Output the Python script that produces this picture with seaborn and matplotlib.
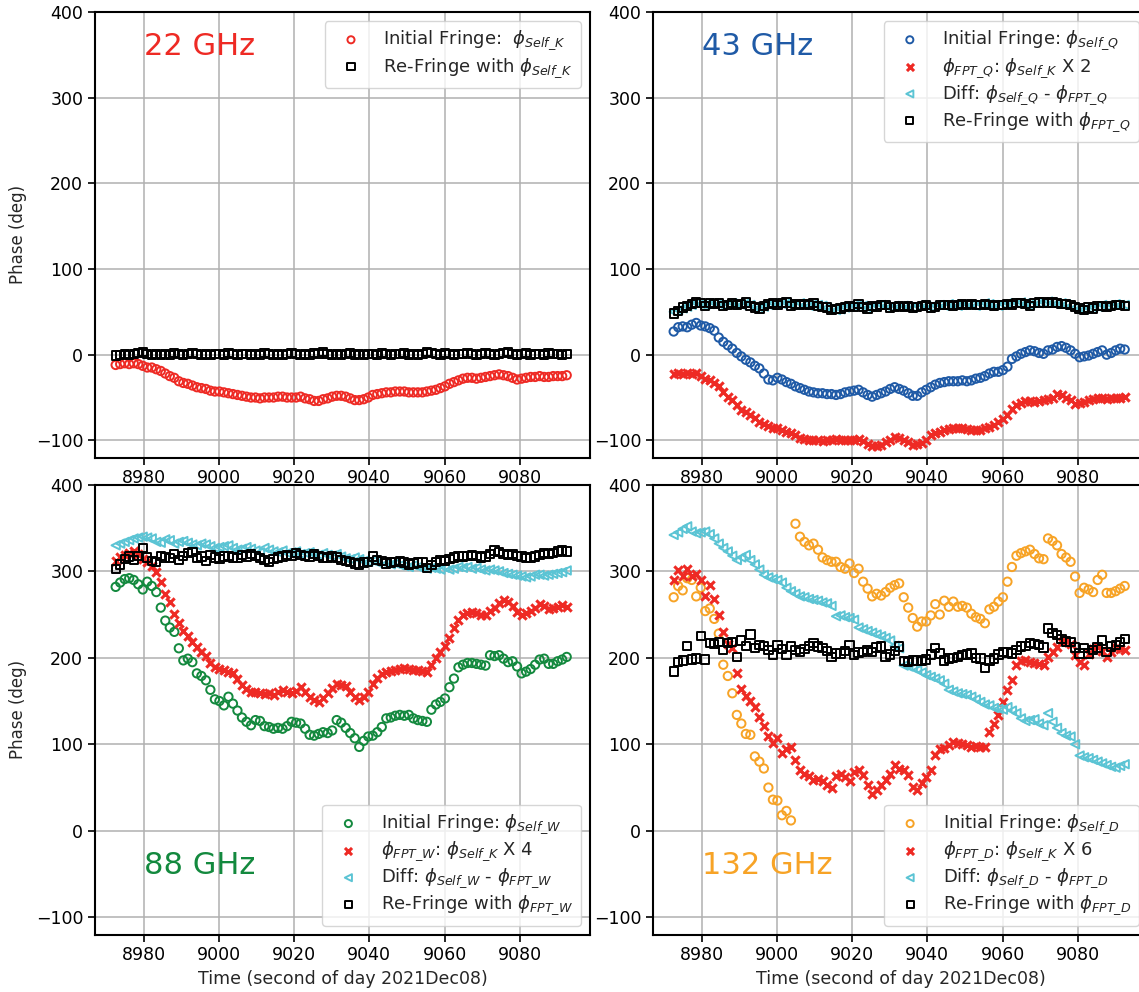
import matplotlib
matplotlib.use("Agg")
import matplotlib.pyplot as plt
import seaborn as sns

# sample times (second of day)
time_s = [
    8972.5, 8973.7, 8974.9, 8976.1, 8977.3, 8978.5, 8979.7, 8980.9, 8982.1, 8983.3,
    8984.5, 8985.7, 8986.9, 8988.1, 8989.3, 8990.5, 8991.7, 8992.9, 8994.1, 8995.3,
    8996.5, 8997.7, 8998.9, 9000.1, 9001.3, 9002.5, 9003.7, 9004.9, 9006.1, 9007.3,
    9008.5, 9009.7, 9010.9, 9012.1, 9013.3, 9014.5, 9015.7, 9016.9, 9018.1, 9019.3,
    9020.5, 9021.7, 9022.9, 9024.1, 9025.3, 9026.5, 9027.7, 9028.9, 9030.1, 9031.3,
    9032.5, 9033.7, 9034.9, 9036.1, 9037.3, 9038.5, 9039.7, 9040.9, 9042.1, 9043.3,
    9044.5, 9045.7, 9046.9, 9048.1, 9049.3, 9050.5, 9051.7, 9052.9, 9054.1, 9055.3,
    9056.5, 9057.7, 9058.9, 9060.1, 9061.3, 9062.5, 9063.7, 9064.9, 9066.1, 9067.3,
    9068.5, 9069.7, 9070.9, 9072.1, 9073.3, 9074.5, 9075.7, 9076.9, 9078.1, 9079.3,
    9080.5, 9081.7, 9082.9, 9084.1, 9085.3, 9086.5, 9087.7, 9088.9, 9090.1, 9091.3,
    9092.5,
]

# 22 GHz
self_k = [
    -12, -11, -10, -11, -10, -11, -13, -15, -15, -17,
    -19, -22, -25, -27, -31, -33, -34, -36, -38, -39,
    -40, -42, -43, -43, -44, -45, -46, -47, -48, -49,
    -50, -50, -51, -50, -50, -50, -49, -49, -50, -50,
    -50, -49, -51, -52, -54, -54, -52, -51, -49, -48,
    -48, -49, -51, -53, -53, -52, -50, -47, -46, -45,
    -44, -44, -43, -43, -43, -44, -44, -44, -44, -43,
    -42, -41, -39, -37, -34, -32, -30, -28, -27, -27,
    -28, -27, -26, -25, -24, -23, -24, -25, -27, -29,
    -28, -27, -26, -26, -25, -26, -26, -25, -25, -25,
    -24,
]
refringe_k = [
    -1, 0, 1, 0, 1, 2, 3, 1, 0, 1,
    0, 1, 0, 2, 1, 0, 1, 2, 1, 0,
    1, 0, 1, 1, 0, 2, 1, 0, 1, 1,
    0, 1, 0, 2, 1, 0, 1, 0, 1, 2,
    1, 0, 1, 0, 2, 1, 3, 1, 0, 1,
    0, 1, 2, 0, 1, 0, 1, 1, 0, 2,
    1, 0, 1, 1, 2, 0, 1, 0, 1, 3,
    2, 1, 0, 2, 1, 0, 1, 1, 2, 1,
    0, 1, 2, 1, 0, 1, 2, 3, 1, 0,
    1, 2, 0, 1, 1, 0, 2, 1, 1, 0,
    1,
]

# 43 GHz
self_q = [
    27, 32, 33, 32, 35, 37, 34, 33, 31, 28,
    20, 15, 11, 7, 2, -2, -6, -9, -13, -16,
    -22, -29, -30, -27, -29, -32, -34, -37, -39, -41,
    -43, -44, -45, -45, -46, -46, -47, -46, -44, -43,
    -42, -41, -44, -47, -49, -47, -45, -43, -40, -38,
    -40, -42, -45, -48, -48, -44, -41, -38, -35, -33,
    -32, -31, -31, -31, -30, -31, -30, -28, -27, -25,
    -22, -20, -20, -18, -14, -5, -2, 1, 3, 5,
    4, 2, 1, 5, 6, 9, 10, 8, 5, 1,
    -3, -2, -1, 1, 3, 5, 0, 2, 5, 7,
    6,
]
fpt_q = [
    -23, -21, -22, -21, -23, -21, -25, -28, -29, -33,
    -37, -43, -49, -53, -59, -64, -67, -70, -74, -78,
    -81, -83, -85, -86, -88, -90, -91, -94, -97, -98,
    -99, -100, -100, -101, -100, -99, -98, -99, -99, -100,
    -99, -98, -101, -104, -106, -107, -105, -102, -99, -96,
    -97, -99, -102, -105, -104, -103, -99, -94, -91, -90,
    -88, -87, -86, -86, -86, -87, -88, -88, -88, -86,
    -84, -82, -78, -75, -70, -63, -59, -56, -54, -54,
    -55, -54, -53, -52, -50, -46, -47, -50, -53, -57,
    -56, -55, -53, -52, -50, -51, -52, -51, -50, -50,
    -49,
]
diff_q = [
    50, 52, 54, 56, 58, 60, 59, 58, 59, 60,
    59, 58, 59, 60, 59, 58, 60, 58, 56, 55,
    56, 58, 60, 59, 59, 60, 59, 58, 60, 58,
    57, 59, 58, 57, 55, 53, 52, 53, 55, 56,
    57, 58, 57, 55, 56, 57, 58, 57, 56, 57,
    56, 57, 56, 55, 57, 58, 57, 56, 57, 58,
    57, 59, 58, 57, 58, 59, 58, 57, 59, 60,
    59, 58, 57, 59, 60, 59, 60, 61, 60, 58,
    61, 60, 61, 62, 61, 60, 60, 59, 57, 55,
    54, 53, 54, 55, 56, 58, 57, 58, 59, 58,
    58,
]
refringe_q = [
    48, 51, 55, 57, 59, 61, 60, 57, 60, 59,
    60, 57, 58, 60, 58, 59, 61, 57, 55, 54,
    57, 59, 60, 58, 60, 61, 57, 59, 58, 59,
    58, 60, 57, 56, 55, 52, 53, 54, 56, 57,
    56, 59, 56, 54, 57, 56, 58, 58, 55, 56,
    57, 56, 57, 55, 56, 57, 58, 55, 56, 58,
    58, 58, 57, 58, 59, 58, 59, 58, 58, 59,
    58, 57, 58, 58, 59, 58, 60, 60, 59, 57,
    60, 61, 61, 60, 61, 60, 59, 59, 58, 56,
    54, 52, 55, 54, 57, 57, 56, 57, 58, 58,
    57,
]

# 88 GHz
self_w = [
    282, 287, 291, 292, 290, 285, 279, 288, 283, 276,
    258, 243, 235, 230, 211, 197, 199, 195, 182, 179,
    174, 163, 152, 150, 145, 155, 147, 139, 131, 126,
    122, 128, 127, 121, 120, 118, 119, 118, 121, 126,
    125, 124, 118, 111, 110, 112, 114, 113, 116, 128,
    125, 119, 113, 107, 97, 104, 109, 110, 114, 120,
    130, 131, 133, 134, 133, 134, 130, 128, 127, 126,
    140, 146, 149, 153, 166, 176, 189, 192, 194, 194,
    193, 192, 191, 203, 202, 203, 199, 195, 196, 190,
    182, 184, 187, 192, 198, 199, 193, 193, 196, 198,
    201,
]
fpt_w = [
    312, 316, 319, 321, 323, 320, 314, 311, 306, 299,
    288, 274, 264, 251, 240, 231, 225, 218, 213, 207,
    202, 194, 189, 187, 186, 184, 182, 176, 169, 164,
    161, 160, 159, 158, 159, 157, 160, 163, 161, 159,
    162, 166, 161, 155, 151, 149, 154, 159, 165, 170,
    168, 167, 161, 155, 151, 155, 161, 170, 177, 181,
    184, 185, 186, 187, 188, 187, 186, 186, 185, 184,
    192, 200, 207, 214, 223, 235, 244, 250, 252, 253,
    252, 250, 250, 254, 258, 263, 267, 264, 260, 253,
    250, 252, 254, 258, 262, 260, 256, 257, 259, 261,
    259,
]
diff_w = [
    330, 332, 334, 336, 338, 339, 340, 339, 338, 334,
    333, 337, 336, 332, 334, 335, 333, 331, 330, 332,
    331, 329, 327, 328, 329, 330, 327, 325, 326, 328,
    326, 324, 322, 327, 325, 323, 322, 324, 321, 322,
    323, 320, 321, 322, 320, 319, 321, 319, 318, 320,
    317, 315, 314, 316, 314, 312, 311, 312, 310, 311,
    309, 308, 309, 307, 306, 305, 307, 305, 304, 303,
    304, 303, 302, 304, 302, 303, 305, 304, 305, 303,
    304, 302, 301, 302, 301, 300, 298, 297, 296, 295,
    294, 293, 294, 296, 296, 295, 296, 297, 298, 299,
    301,
]
refringe_w = [
    303, 308, 314, 317, 313, 318, 327, 316, 312, 311,
    318, 316, 315, 320, 313, 318, 321, 322, 315, 317,
    312, 319, 316, 314, 317, 318, 316, 315, 319, 317,
    320, 318, 315, 313, 311, 314, 316, 317, 319, 318,
    321, 319, 318, 317, 320, 318, 316, 315, 317, 316,
    313, 312, 311, 309, 308, 310, 311, 317, 313, 312,
    309, 310, 311, 312, 310, 308, 309, 310, 311, 304,
    307, 311, 313, 312, 314, 316, 318, 317, 318, 319,
    318, 316, 317, 320, 324, 322, 320, 319, 320, 318,
    317, 315, 316, 317, 319, 321, 320, 321, 323, 324,
    323,
]

# 132 GHz (initial fringe phase wraps at 0/360)
self_d = [
    270, 283, 278, 292, 290, 271, 281, 254, 257, 245,
    228, 192, 179, 159, 134, 124, 112, 111, 86, 80,
    72, 50, 36, 35, 18, 23, 12, 355, 340, 334,
    330, 332, 325, 316, 313, 311, 311, 305, 303, 309,
    298, 303, 288, 280, 271, 274, 272, 276, 281, 284,
    286, 270, 258, 246, 236, 242, 242, 249, 262, 250,
    266, 259, 265, 259, 260, 258, 251, 247, 245, 240,
    256, 259, 265, 270, 288, 305, 318, 321, 323, 325,
    320, 315, 314, 338, 335, 330, 320, 316, 311, 294,
    275, 281, 279, 276, 290, 296, 275, 275, 277, 280,
    283,
]
fpt_d = [
    290, 302, 294, 303, 295, 297, 290, 271, 284, 268,
    250, 230, 216, 211, 182, 164, 156, 150, 143, 132,
    121, 110, 102, 107, 90, 95, 97, 82, 70, 66,
    63, 59, 60, 57, 53, 50, 63, 66, 62, 57,
    68, 70, 64, 53, 42, 47, 53, 59, 66, 76,
    72, 70, 65, 51, 47, 55, 62, 70, 88, 95,
    96, 99, 103, 102, 100, 99, 97, 98, 97, 97,
    114, 123, 134, 149, 163, 174, 192, 196, 197, 195,
    194, 193, 192, 201, 207, 213, 218, 219, 216, 203,
    195, 192, 204, 210, 213, 208, 201, 207, 211, 210,
    209,
]
diff_d = [
    342, 345, 349, 352, 346, 344, 345, 346, 343, 338,
    332, 327, 323, 318, 313, 316, 319, 313, 308, 302,
    296, 293, 291, 290, 287, 281, 277, 274, 271, 270,
    268, 267, 266, 264, 263, 260, 248, 249, 247, 246,
    244, 235, 233, 231, 229, 227, 225, 223, 220, 214,
    211, 191, 190, 188, 186, 183, 180, 178, 176, 174,
    170, 163, 161, 159, 158, 157, 155, 152, 149, 146,
    145, 142, 141, 140, 143, 139, 136, 130, 127, 128,
    129, 124, 122, 136, 126, 119, 113, 110, 109, 100,
    87, 85, 84, 82, 80, 78, 76, 74, 73, 75,
    77,
]
refringe_d = [
    184, 195, 197, 214, 198, 199, 225, 198, 217, 216,
    218, 209, 217, 218, 201, 220, 214, 227, 211, 215,
    214, 209, 203, 215, 210, 203, 213, 209, 207, 210,
    214, 217, 213, 211, 208, 201, 205, 205, 208, 215,
    203, 206, 207, 209, 207, 212, 213, 201, 204, 208,
    213, 196, 195, 197, 197, 196, 198, 204, 211, 205,
    197, 199, 200, 201, 203, 204, 205, 200, 199, 188,
    197, 199, 204, 207, 206, 205, 209, 213, 214, 217,
    216, 215, 212, 234, 229, 226, 222, 219, 218, 212,
    205, 211, 205, 209, 212, 220, 207, 213, 215, 218,
    222,
]

RED = "#ee2a24"
CYAN = "#5bc4d4"
BLACK = "#000000"

sns.set_style("ticks", {"axes.grid": True, "grid.color": "#b0b0b0",
                        "axes.edgecolor": "black", "xtick.color": "black",
                        "ytick.color": "black"})
plt.rcParams["font.family"] = ["DejaVu Sans"]
plt.rcParams["mathtext.fontset"] = "dejavusans"
plt.rcParams["axes.unicode_minus"] = True

fig = plt.figure(figsize=(11.39, 9.92), dpi=100)
W, H = 1139.0, 992.0
ax_w = 495 / W
top_b, top_h = 1 - 457.5 / H, 445.6 / H
bot_b, bot_h = 1 - 934.6 / H, 449.8 / H
axes = [
    fig.add_axes([95 / W, top_b, ax_w, top_h]),
    fig.add_axes([653 / W, top_b, ax_w, top_h]),
    fig.add_axes([95 / W, bot_b, ax_w, bot_h]),
    fig.add_axes([653 / W, bot_b, ax_w, bot_h]),
]

MS = 36


def circles(ax, y, color, label):
    sns.scatterplot(x=time_s, y=y, ax=ax, marker="o", s=MS, facecolor="none",
                    edgecolor=color, linewidth=1.4, label=label, zorder=3)


def crosses(ax, y, label):
    sns.scatterplot(x=time_s, y=y, ax=ax, marker="x", s=MS, color=RED,
                    linewidth=2.2, label=label, zorder=3)


def triangles(ax, y, label):
    sns.scatterplot(x=time_s, y=y, ax=ax, marker="<", s=MS, facecolor="none",
                    edgecolor=CYAN, linewidth=1.4, label=label, zorder=3)


def squares(ax, y, label):
    sns.scatterplot(x=time_s, y=y, ax=ax, marker="s", s=MS, facecolor="none",
                    edgecolor=BLACK, linewidth=1.4, label=label, zorder=3)


LEG = dict(fontsize=13, labelspacing=0.2, borderpad=0.45, handletextpad=0.8,
           markerscale=0.85)

# 22 GHz
ax = axes[0]
circles(ax, self_k, RED, r"Initial Fringe:  $\phi_{Self\_K}$")
squares(ax, refringe_k, r"Re-Fringe with $\phi_{Self\_K}$")
ax.text(8980, 350, "22 GHz", color=RED, fontsize=22)
ax.legend(loc="upper right", **LEG)

# 43 GHz
ax = axes[1]
circles(ax, self_q, "#1f5aa6", r"Initial Fringe: $\phi_{Self\_Q}$")
crosses(ax, fpt_q, r"$\phi_{FPT\_Q}$: $\phi_{Self\_K}$ X 2")
triangles(ax, diff_q, r"Diff: $\phi_{Self\_Q}$ - $\phi_{FPT\_Q}$")
squares(ax, refringe_q, r"Re-Fringe with $\phi_{FPT\_Q}$")
ax.text(8980, 350, "43 GHz", color="#1f5aa6", fontsize=22)
ax.legend(loc="upper right", **LEG)

# 88 GHz
ax = axes[2]
circles(ax, self_w, "#13893e", r"Initial Fringe: $\phi_{Self\_W}$")
crosses(ax, fpt_w, r"$\phi_{FPT\_W}$: $\phi_{Self\_K}$ X 4")
triangles(ax, diff_w, r"Diff: $\phi_{Self\_W}$ - $\phi_{FPT\_W}$")
squares(ax, refringe_w, r"Re-Fringe with $\phi_{FPT\_W}$")
ax.text(8980, -50, "88 GHz", color="#13893e", fontsize=22)
ax.legend(loc="lower right", **LEG)

# 132 GHz
ax = axes[3]
circles(ax, self_d, "#f7a326", r"Initial Fringe: $\phi_{Self\_D}$")
crosses(ax, fpt_d, r"$\phi_{FPT\_D}$: $\phi_{Self\_K}$ X 6")
triangles(ax, diff_d, r"Diff: $\phi_{Self\_D}$ - $\phi_{FPT\_D}$")
squares(ax, refringe_d, r"Re-Fringe with $\phi_{FPT\_D}$")
ax.text(8980, -50, "132 GHz", color="#f7a326", fontsize=22)
ax.legend(loc="lower right", **LEG)

for i, ax in enumerate(axes):
    ax.set_xlim(8967.0, 9098.7)
    ax.set_ylim(-120, 400)
    ax.set_xticks([8980, 9000, 9020, 9040, 9060, 9080])
    ax.set_yticks([-100, 0, 100, 200, 300, 400])
    ax.tick_params(labelsize=12.5, direction="out", length=5, width=1.2)
    ax.grid(True, color="#b0b0b0", linewidth=1.1)
    for sp in ax.spines.values():
        sp.set_linewidth(1.5)
        sp.set_color("black")
    ax.set_xlabel("")
    ax.set_ylabel("")
    if i % 2 == 0:
        ax.set_ylabel("Phase (deg)", fontsize=12, labelpad=6)
    if i >= 2:
        ax.set_xlabel("Time (second of day 2021Dec08)", fontsize=12.5)

fig.savefig("out.png", dpi=100)
